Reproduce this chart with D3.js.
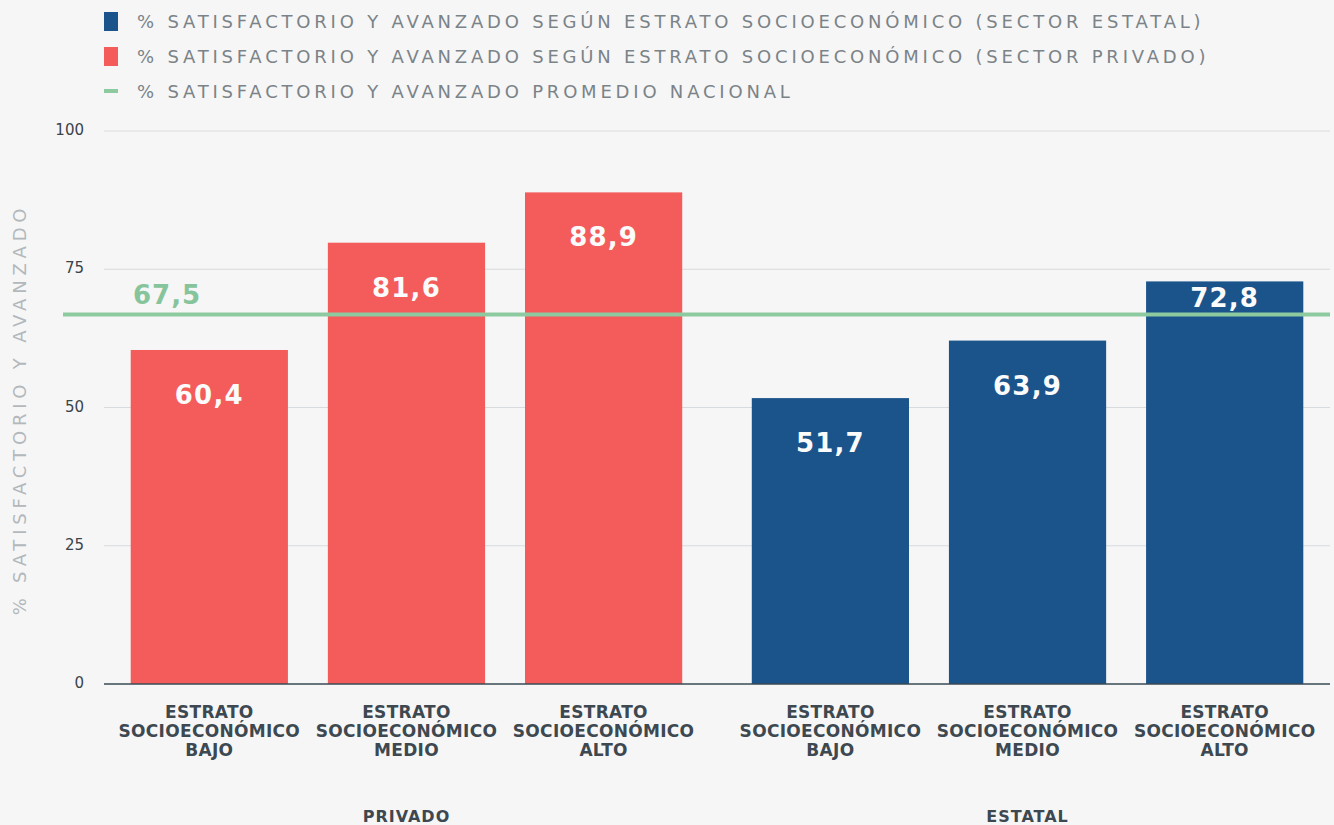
<!DOCTYPE html>
<html lang="es">
<head>
<meta charset="UTF-8">
<title>Satisfactorio y avanzado</title>
<script src="https://cdn.jsdelivr.net/npm/d3@7"></script>
<style>
  body { margin: 0; padding: 0; background: #f6f6f6; overflow: hidden; }
  svg text { font-family: "DejaVu Sans", "Open Sans", sans-serif; }
</style>
</head>
<body>
<div id="chart"></div>
<script>
// data: printed labels
var groups = ["PRIVADO", "ESTATAL"];
var strata = ["BAJO", "MEDIO", "ALTO"];
var privado = [60.4, 81.6, 88.9];
var estatal = [51.7, 63.9, 72.8];
var promedio = 67.5;
// bar / line heights as drawn in the picture (two bars and the line sit a little lower than their labels)
var privadoBar = [60.4, 79.8, 88.9];
var estatalBar = [51.7, 62.1, 72.8];
var promedioLine = 66.8;
var yTicks = [0, 25, 50, 75, 100];
var legendLabels = [
  "% SATISFACTORIO Y AVANZADO SEGÚN ESTRATO SOCIOECONÓMICO (SECTOR ESTATAL)",
  "% SATISFACTORIO Y AVANZADO SEGÚN ESTRATO SOCIOECONÓMICO (SECTOR PRIVADO)",
  "% SATISFACTORIO Y AVANZADO PROMEDIO NACIONAL"
];

var colors = { PRIVADO: "#f45b5b", ESTATAL: "#1b548b", line: "#8dcaa0" };

var W = 1334, H = 825;
var mLeft = 104, mRight = 1330, mTop = 131, mBottom = 684;

var svg = d3.select("#chart").append("svg")
    .attr("width", W).attr("height", H);

svg.append("rect").attr("width", W).attr("height", H).attr("fill", "#f6f6f6");

var y = d3.scaleLinear().domain([0, 100]).range([mBottom, mTop]);
var x0 = d3.scaleBand().domain(groups).range([mLeft, mRight])
    .paddingInner(0.112).paddingOuter(0.043);
var x1 = d3.scaleBand().domain(strata).range([0, x0.bandwidth()])
    .paddingInner(0.2025).paddingOuter(0);

var fmt = function(v){ return d3.format(".1f")(v).replace(".", ","); };

// grid
svg.append("g").selectAll("line")
  .data(yTicks.filter(function(d){ return d > 0; }))
  .enter().append("line")
    .attr("x1", mLeft).attr("x2", mRight)
    .attr("y1", function(d){ return y(d); })
    .attr("y2", function(d){ return y(d); })
    .attr("stroke", "#d7dbde").attr("stroke-width", 1.2);

// y tick labels
svg.append("g").selectAll("text")
  .data(yTicks)
  .enter().append("text")
    .attr("x", 84)
    .attr("y", function(d){ return y(d) + 4; })
    .attr("text-anchor", "end")
    .attr("font-size", 15)
    .attr("fill", "#3a444b")
    .text(function(d){ return d; });

// y axis title
svg.append("text")
  .attr("transform", "translate(26," + ((mTop + mBottom) / 2 + 2) + ") rotate(-90)")
  .attr("text-anchor", "middle")
  .attr("font-size", 18)
  .attr("letter-spacing", 4.8)
  .attr("fill", "#b3b8bc")
  .text("% SATISFACTORIO Y AVANZADO");

var rows = [];
groups.forEach(function(g){
  var vals = g === "PRIVADO" ? privado : estatal;
  var bars = g === "PRIVADO" ? privadoBar : estatalBar;
  strata.forEach(function(s, i){ rows.push({ g: g, s: s, v: vals[i], h: bars[i] }); });
});

function bx(d){ return x0(d.g) + x1(d.s); }

// bars
svg.append("g").selectAll("rect")
  .data(rows)
  .enter().append("rect")
    .attr("x", bx)
    .attr("y", function(d){ return y(d.h); })
    .attr("width", x1.bandwidth())
    .attr("height", function(d){ return mBottom - y(d.h); })
    .attr("fill", function(d){ return colors[d.g]; });

// x axis line
svg.append("line")
  .attr("x1", mLeft).attr("x2", mRight)
  .attr("y1", mBottom).attr("y2", mBottom)
  .attr("stroke", "#3a4a55").attr("stroke-width", 1.5);

// average line
svg.append("line")
  .attr("x1", 63).attr("x2", mRight)
  .attr("y1", y(promedioLine)).attr("y2", y(promedioLine))
  .attr("stroke", colors.line).attr("stroke-width", 4);

svg.append("text")
  .attr("x", 133).attr("y", y(promedioLine) - 11)
  .attr("font-size", 26).attr("font-weight", 700)
  .attr("letter-spacing", 1)
  .attr("fill", "#86c49b")
  .text(fmt(promedio));

// value labels
svg.append("g").selectAll("text")
  .data(rows)
  .enter().append("text")
    .attr("x", function(d){ return bx(d) + x1.bandwidth() / 2; })
    .attr("y", function(d){
      var ty = y(d.h) + 54;
      if (Math.abs(ty - 9 - y(promedioLine)) < 20) ty = y(d.h) + 26;
      return ty;
    })
    .attr("text-anchor", "middle")
    .attr("font-size", 26).attr("font-weight", 700)
    .attr("letter-spacing", 1.2)
    .attr("fill", "#fbfbfb")
    .text(function(d){ return fmt(d.v); });

// category labels
var cat = svg.append("g").selectAll("text")
  .data(rows)
  .enter().append("text")
    .attr("text-anchor", "middle")
    .attr("font-size", 17).attr("font-weight", 700)
    .attr("letter-spacing", 0.3)
    .attr("fill", "#3d4850");
cat.each(function(d){
  var t = d3.select(this);
  var cx = bx(d) + x1.bandwidth() / 2;
  ["ESTRATO", "SOCIOECONÓMICO", d.s].forEach(function(line, i){
    t.append("tspan").attr("x", cx).attr("y", 718 + i * 19).text(line);
  });
});

// group labels
svg.append("g").selectAll("text")
  .data(groups)
  .enter().append("text")
    .attr("x", function(g){ return x0(g) + x0.bandwidth() / 2; })
    .attr("y", 822)
    .attr("text-anchor", "middle")
    .attr("font-size", 16).attr("font-weight", 700)
    .attr("letter-spacing", 1)
    .attr("fill", "#3d4850")
    .text(function(g){ return g; });

// legend
var legendColors = [colors.ESTATAL, colors.PRIVADO, colors.line];
var lg = svg.append("g").selectAll("g")
  .data(legendLabels)
  .enter().append("g")
    .attr("transform", function(d, i){ return "translate(104," + (21 + i * 35) + ")"; });
lg.append("rect")
  .attr("x", 0)
  .attr("y", function(d, i){ return i < 2 ? -9 : -2; })
  .attr("width", 14)
  .attr("height", function(d, i){ return i < 2 ? 19 : 4; })
  .attr("fill", function(d, i){ return legendColors[i]; });
lg.append("text")
  .attr("x", 33).attr("y", 7)
  .attr("font-size", 18)
  .attr("letter-spacing", 3.8)
  .attr("fill", "#7b8388")
  .text(function(d){ return d; });
</script>
</body>
</html>
